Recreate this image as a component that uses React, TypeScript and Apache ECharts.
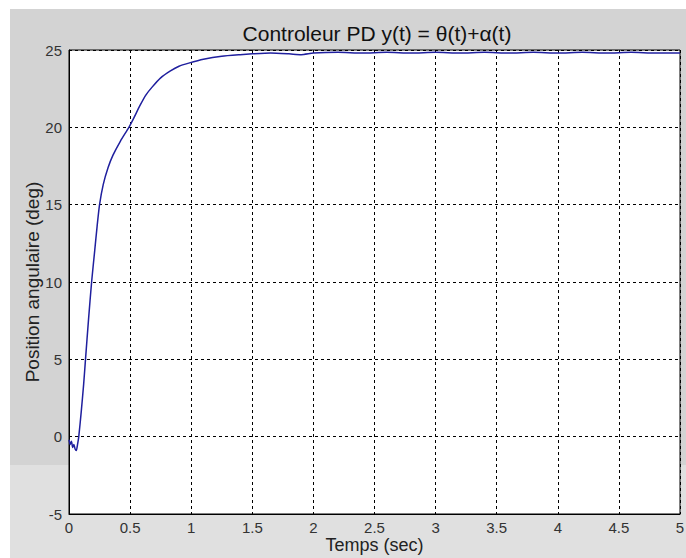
import React, { useEffect, useRef } from "react";
import * as echarts from "echarts";

const titleText = "Controleur PD y(t) = θ(t)+α(t)";
const xName = "Temps (sec)";
const yName = "Position angulaire (deg)";

const times = [0, 0.01, 0.02, 0.03, 0.04, 0.05, 0.06, 0.07, 0.08, 0.1, 0.12, 0.135, 0.16, 0.185, 0.21, 0.23, 0.25, 0.28, 0.32, 0.36, 0.42, 0.49, 0.53, 0.58, 0.63, 0.68, 0.75, 0.83, 0.9, 0.98, 1.1, 1.25, 1.4, 1.5, 1.65, 1.8, 1.9, 2.0, 2.2, 2.4, 2.6, 2.8, 3.0, 3.2, 3.4, 3.6, 3.8, 4.0, 4.2, 4.4, 4.6, 4.8, 5.0];
const position = [-0.2, -0.5, -0.3, -0.7, -0.5, -0.8, -0.9, -0.5, 0, 1.6, 3.4, 5, 7.6, 10, 12, 13.6, 15, 16.3, 17.4, 18.2, 19.1, 20, 20.6, 21.4, 22.1, 22.6, 23.2, 23.65, 23.95, 24.15, 24.4, 24.6, 24.7, 24.75, 24.8, 24.75, 24.7, 24.8, 24.85, 24.8, 24.85, 24.8, 24.85, 24.8, 24.85, 24.8, 24.85, 24.8, 24.85, 24.8, 24.85, 24.8, 24.8];

const xMin = 0, xMax = 5, xStep = 0.5;
const yMin = -5, yMax = 25, yStep = 5;

export default function App() {
  const ref = useRef<HTMLDivElement>(null);
  useEffect(() => {
    if (!ref.current) return;
    const chart = echarts.init(ref.current, null, { renderer: "svg" });
    const font = "'Liberation Sans', Arial, sans-serif";
    chart.setOption({
      animation: false,
      backgroundColor: "#ffffff",
      graphic: [
        { type: "rect", z: -10, shape: { x: 10, y: 9, width: 676, height: 456 }, style: { fill: "#d3d3d3" }, silent: true },
        { type: "rect", z: -10, shape: { x: 10, y: 465, width: 676, height: 93 }, style: { fill: "#e0e0e0" }, silent: true },
      ],
      title: {
        text: titleText,
        left: 372,
        top: 18,
        textAlign: "center",
        textStyle: { fontFamily: font, fontSize: 21, fontWeight: "normal", color: "#111" },
      },
      grid: {
        left: 69, right: 6, top: 50, bottom: 44,
        outerBoundsMode: "none",
        show: true, backgroundColor: "#ffffff", borderColor: "#000", borderWidth: 1,
      },
      xAxis: {
        type: "value", min: xMin, max: xMax, interval: xStep,
        name: xName, nameLocation: "middle", nameGap: 22, nameMoveOverlap: false,
        nameTextStyle: { fontFamily: font, fontSize: 18, color: "#222" },
        axisLine: { show: true, onZero: false, lineStyle: { color: "#000" } },
        axisTick: { show: false },
        axisLabel: { fontFamily: font, fontSize: 15, color: "#333", margin: 6 },
        splitLine: { show: true, lineStyle: { color: "#000", type: [3, 3], width: 1 } },
      },
      yAxis: {
        type: "value", min: yMin, max: yMax, interval: yStep,
        name: yName, nameLocation: "middle", nameGap: 27, nameMoveOverlap: false,
        nameTextStyle: { fontFamily: font, fontSize: 19, color: "#222" },
        axisLine: { show: true, onZero: false, lineStyle: { color: "#000" } },
        axisTick: { show: false },
        axisLabel: { fontFamily: font, fontSize: 15, color: "#333", margin: 7 },
        splitLine: { show: true, lineStyle: { color: "#000", type: [3, 3], width: 1 } },
      },
      series: [
        {
          type: "line",
          data: times.map((t, i) => [t, position[i]]),
          showSymbol: false,
          smooth: 0.2,
          lineStyle: { color: "#1f1f9e", width: 1.5 },
        },
      ],
    });
    return () => chart.dispose();
  }, []);
  return <div ref={ref} style={{ position: "fixed", left: 0, top: 0, width: 686, height: 558 }} />;
}
